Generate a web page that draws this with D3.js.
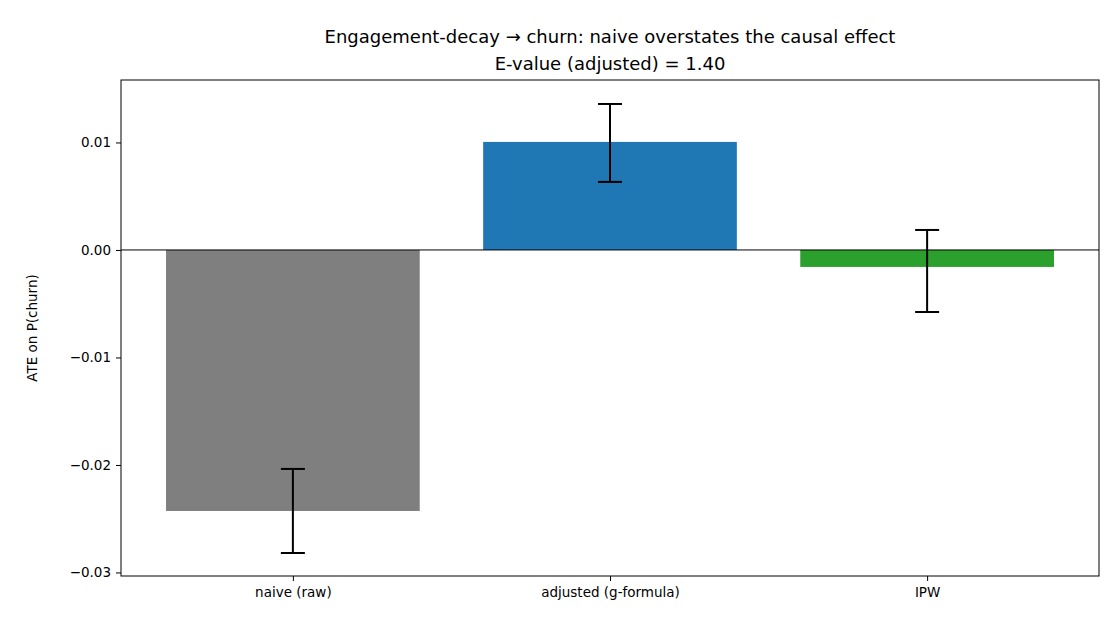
<!DOCTYPE html>
<html><head><meta charset="utf-8">
<script src="https://cdn.jsdelivr.net/npm/d3@7"></script>
<style>body{margin:0;background:#fff}svg{font-family:"DejaVu Sans",sans-serif}</style>
</head><body><svg id="c" width="1120" height="630"></svg>
<script>
const categories = ["naive (raw)", "adjusted (g-formula)", "IPW"];
const values = [-0.02428, 0.01005, -0.00158];
const errLow = [-0.02819, 0.00633, -0.00577];
const errHigh = [-0.02037, 0.01358, 0.00186];
const colors = ["#7f7f7f", "#1f77b4", "#2ca02c"];
const yTicks = [0.01, 0.00, -0.01, -0.02, -0.03];

const svg = d3.select("#c");
const L = 121, R = 1099, T = 80, B = 576;
const x = d3.scaleLinear().domain([-0.542, 2.542]).range([L, R]);
const y = d3.scaleLinear().domain([-0.03033, 0.01581]).range([B, T]);
const bw = x(0.4) - x(-0.4);

svg.selectAll("rect.bar").data(values).join("rect")
  .attr("x", (d, i) => x(i) - bw / 2).attr("width", bw)
  .attr("y", d => y(Math.max(0, d))).attr("height", d => Math.abs(y(d) - y(0)))
  .attr("fill", (d, i) => colors[i]);

svg.append("line").attr("x1", L).attr("x2", R).attr("y1", y(0)).attr("y2", y(0))
  .attr("stroke", "#000").attr("stroke-width", 1);

const eg = svg.append("g").attr("stroke", "#000").attr("stroke-width", 2);
categories.forEach((c, i) => {
  eg.append("line").attr("x1", x(i)).attr("x2", x(i)).attr("y1", y(errLow[i])).attr("y2", y(errHigh[i]));
  [errLow[i], errHigh[i]].forEach(v => eg.append("line").attr("x1", x(i) - 12).attr("x2", x(i) + 12).attr("y1", y(v)).attr("y2", y(v)));
});

const ya = svg.append("g").attr("transform", `translate(${L},0)`)
  .call(d3.axisLeft(y).tickValues(yTicks).tickSize(5).tickPadding(5)
    .tickFormat(d => (d < 0 ? "\u2212" : "") + Math.abs(d).toFixed(2)));
const xa = svg.append("g").attr("transform", `translate(0,${B})`)
  .call(d3.axisBottom(x).tickValues([0, 1, 2]).tickSize(5).tickPadding(6).tickFormat(i => categories[i]));
[ya, xa].forEach(a => { a.select(".domain").remove(); a.selectAll("text").attr("font-size", 13.5).attr("fill", "#000").attr("font-family", "DejaVu Sans"); a.selectAll("line").attr("stroke", "#000"); });

svg.append("rect").attr("x", L).attr("y", T).attr("width", R - L).attr("height", B - T)
  .attr("fill", "none").attr("stroke", "#000").attr("stroke-width", 1);

svg.append("text").attr("x", 610).attr("y", 43).attr("text-anchor", "middle").attr("font-size", 18)
  .text("Engagement-decay \u2192 churn: naive overstates the causal effect");
svg.append("text").attr("x", 610).attr("y", 70).attr("text-anchor", "middle").attr("font-size", 18)
  .text("E-value (adjusted) = 1.40");
svg.append("text").attr("transform", `translate(37,${(T + B) / 2}) rotate(-90)`)
  .attr("text-anchor", "middle").attr("font-size", 13.5).text("ATE on P(churn)");
</script></body></html>
